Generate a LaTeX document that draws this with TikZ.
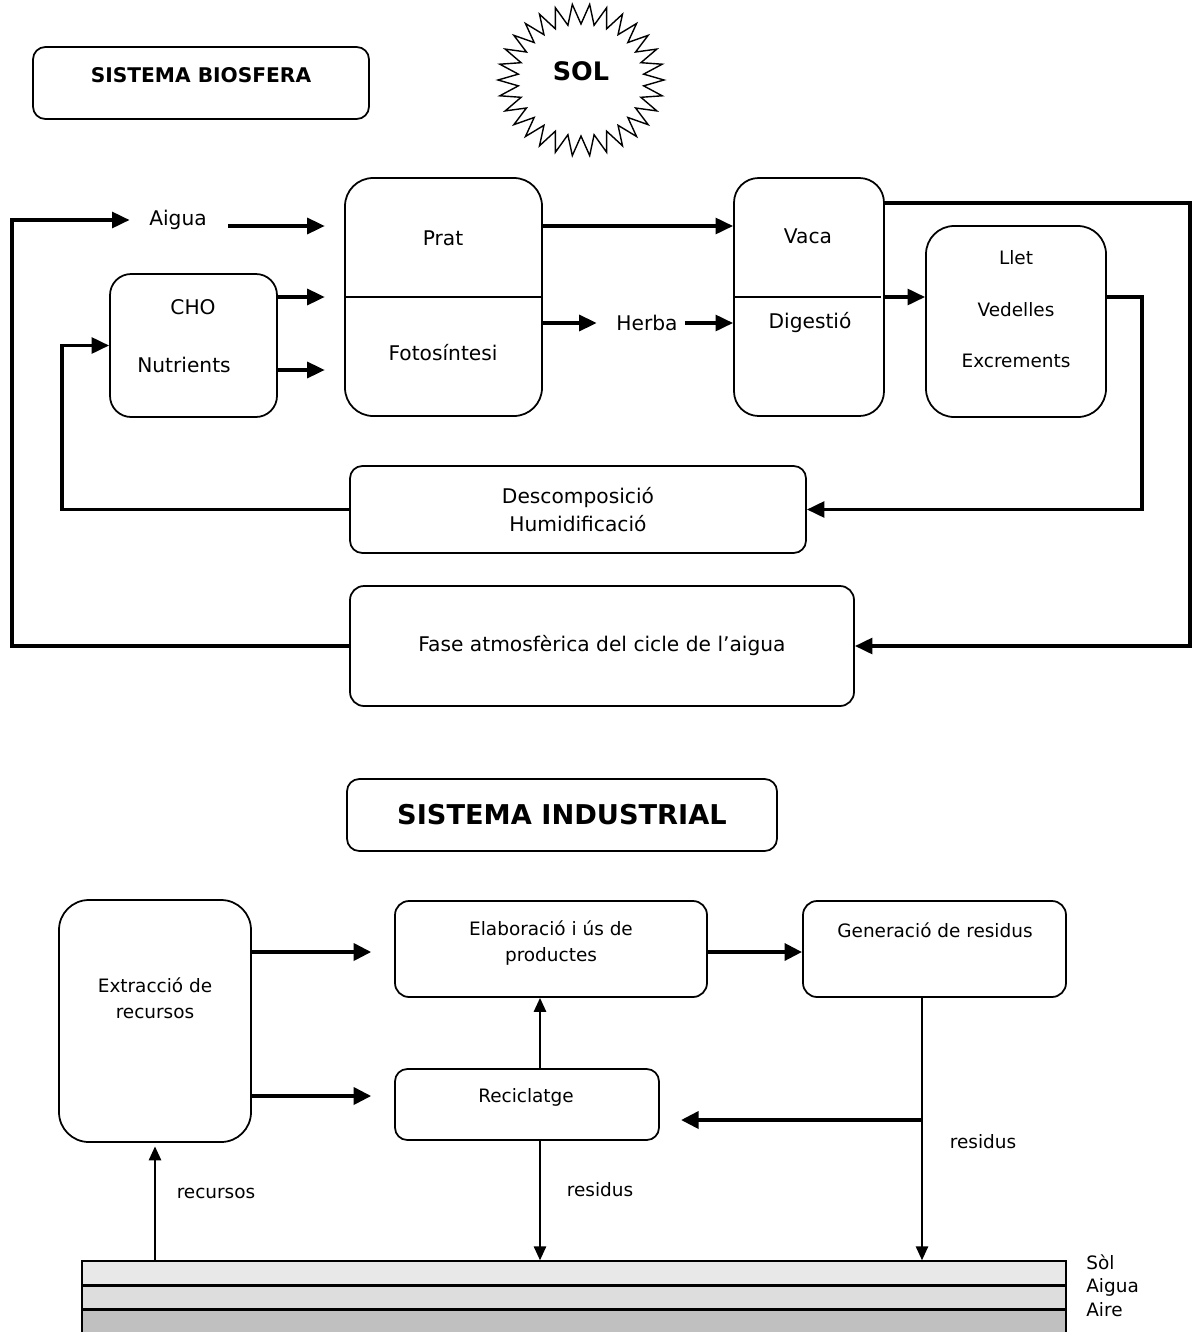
\documentclass[tikz,border=0pt]{standalone}
\usepackage{fontspec}
\setmainfont{DejaVu Sans}
\usetikzlibrary{arrows.meta}
\definecolor{capa1}{HTML}{E8E8E8}
\definecolor{capa2}{HTML}{DDDDDD}
\definecolor{capa3}{HTML}{C0C0C0}
\tikzset{
  caixa/.style={draw, line width=1pt, rounded corners=#1, inner sep=0pt},
  caixa/.default=8pt,
  mida/.style 2 args={minimum width=#1*0.02cm, minimum height=#2*0.02cm},
  txt/.style={inner sep=0pt, font=\fontsize{11.5}{16}\selectfont, align=center},
  txtp/.style={inner sep=0pt, font=\fontsize{10.5}{14.7}\selectfont, align=center},
  titol/.style={inner sep=0pt, font=\fontsize{#1}{#1}\selectfont\bfseries},
  fletxa/.style={line width=2pt, -{Triangle[length=10pt,width=9pt]}},
  fletxap/.style={line width=1.2pt, -{Triangle[length=8pt,width=7pt]}},
  fletxag/.style={line width=2.4pt, -{Triangle[length=10pt,width=9.5pt]}},
}
\begin{document}
\begin{tikzpicture}[x=0.02cm, y=-0.02cm]
    \useasboundingbox (0,0) rectangle (1193,1332);
    % sistema biosfera
    \node[caixa=7pt, mida={336}{72}] (biosfera) at (201,83) {};
    \node[titol=11.5pt] (tbiosfera) at (201,75) {SISTEMA BIOSFERA};
    \draw[line width=0.8pt] plot[samples=61, domain=0:60, variable=\k]
        ({581+(iseven(\k) ? 83 : 63)*cos(6*\k)}, {80+(iseven(\k) ? 76 : 56)*sin(6*\k)}) -- cycle;
    \node[titol=14.5pt] (sol) at (581,71) {SOL};
    \node[caixa=16pt, mida={197}{238}] (prat) at (443.5,297) {};
    \draw[line width=0.8pt] (prat.west) -- (prat.east);
    \node[txt] (tprat) at (443,238) {Prat};
    \node[txt] (foto) at (443,353) {Fotosíntesi};
    \node[caixa=12pt, mida={167}{143}] (cho) at (193.5,345.5) {};
    \node[txt] (tcho) at (193,307) {CHO};
    \node[txt] (nutr) at (184,365) {Nutrients};
    \node[txt] (aigua) at (178,220) {Aigua};
    \node[caixa=14pt, mida={150}{238}] (vaca) at (809,297) {};
    \draw[line width=0.8pt] (vaca.west) -- ([xshift=-2pt]vaca.east);
    \node[txt] (tvaca) at (808,236) {Vaca};
    \node[txt] (dig) at (810,323) {Digestió};
    \node[txt] (herba) at (647,323) {Herba};
    \node[caixa=16pt, mida={180}{191}] (llet) at (1016,321.5) {};
    \node[txtp] (tllet) at (1016,258) {Llet};
    \node[txtp] (vedelles) at (1016,310) {Vedelles};
    \node[txtp] (excr) at (1016,361) {Excrements};
    \node[caixa=7pt, mida={456}{87}, txt] (desc) at (578,509.5) {Descomposició\\Humidificació};
    \node[caixa=8pt, mida={504}{120}, txt] (fase) at (602,646) {Fase atmosfèrica del cicle de l’aigua};
    \draw[fletxa] (fase.west) -- (fase.west -| 12,0) -- (12,220) -- ([xshift=-11pt]aigua.west);
    \draw[fletxa] ([xshift=12pt]aigua.east |- 0,226) -- ([xshift=-11pt]prat.west |- 0,226);
    \draw[fletxa] (cho.east |- prat.west) -- ([xshift=-11pt]prat.west);
    \draw[fletxa] (cho.east |- 0,370) -- ([xshift=-11pt]prat.west |- 0,370);
    \draw[fletxa] (desc.west) -- (desc.west -| 62,0) |- (cho.west);
    \draw[fletxa] (prat.east |- 0,226) -- (vaca.west |- 0,226);
    \draw[fletxa] (prat.east |- herba.west) -- ([xshift=-11pt]herba.west);
    \draw[fletxa] ([xshift=4pt]herba.east) -- (vaca.west |- herba.east);
    \draw[fletxa] (vaca.east) -- (llet.west |- vaca.east);
    \draw[fletxa] (llet.east |- vaca.east) -| (1142,0 |- desc.east) -- (desc.east);
    \draw[fletxa] (vaca.east |- 0,203) -- (1190,203) |- (fase.east);
    % sistema industrial
    \node[caixa=7pt, mida={430}{72}, titol=15.5pt] (industrial) at (562,815) {SISTEMA INDUSTRIAL};
    \node[caixa=17pt, mida={192}{242}] (extr) at (155,1021) {};
    \node[txtp] (textr) at (155,998) {Extracció de\\recursos};
    \node[caixa, mida={312}{96}] (elab) at (551,949) {};
    \node[txtp] (telab) at (551,943) {Elaboració i ús de\\productes};
    \node[caixa, mida={263}{96}] (gen) at (934.5,949) {};
    \node[txtp] (tgen) at (935,930) {Generació de residus};
    \node[caixa=7pt, mida={264}{71}] (recicl) at (527,1104.5) {};
    \node[txtp] (trecicl) at (526,1097) {Reciclatge};
    % capes
    \node[draw, line width=0.8pt, fill=capa1, mida={984}{24}, inner sep=0pt] (capasol) at (574,1273) {};
    \node[draw, line width=0.8pt, fill=capa2, mida={984}{24}, inner sep=0pt] (capaaigua) at (574,1297) {};
    \node[draw, line width=0.8pt, fill=capa3, mida={984}{24}, inner sep=0pt] (capaaire) at (574,1321) {};
    \draw[line width=1.4pt] (capasol.south west) -- (capasol.south east);
    \draw[line width=1.4pt] (capaaigua.south west) -- (capaaigua.south east);
    \node[txtp, anchor=west] (lsol) at (1086,1262) {Sòl};
    \node[txtp, anchor=west] (laigua) at (1086,1287) {Aigua};
    \node[txtp, anchor=west] (laire) at (1086,1310) {Aire};
    \draw[fletxag] (extr.east |- 0,952) -- ([xshift=-13pt]elab.west |- 0,952);
    \draw[fletxag] (extr.east |- 0,1096) -- ([xshift=-13pt]recicl.west |- 0,1096);
    \draw[fletxag] (elab.east |- 0,952) -- (gen.west |- 0,952);
    \draw[fletxap] (recicl.north -| 540,0) -- (elab.south -| 540,0);
    \draw[fletxap] (gen.south -| 922,0) -- (capasol.north -| 922,0);
    \coordinate (branca) at (922,1120);
    \draw[fletxag] (branca) -- ([xshift=12pt]recicl.east |- branca);
    \draw[fletxap] (recicl.south -| 540,0) -- (capasol.north -| 540,0);
    \draw[fletxap] (capasol.north -| 155,0) -- ([yshift=-2pt]extr.south);
    \node[txtp] (lrecursos) at (216,1193) {recursos};
    \node[txtp] (lresidus1) at (600,1190) {residus};
    \node[txtp] (lresidus2) at (983,1142) {residus};
\end{tikzpicture}
\end{document}
